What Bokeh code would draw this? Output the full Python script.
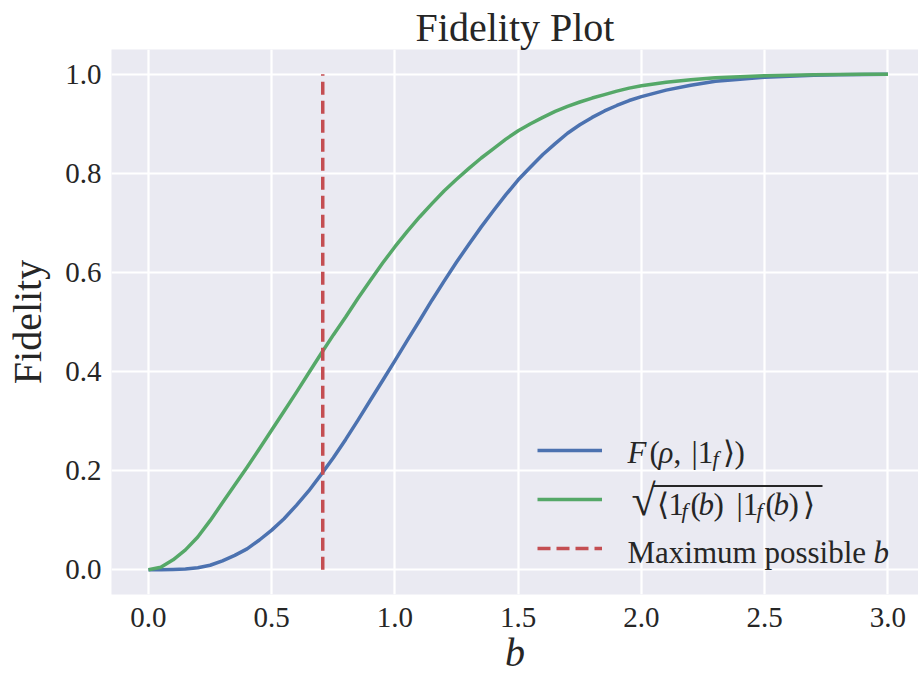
from bokeh.plotting import figure
from bokeh.models import Legend, LegendItem, Label, BoxAnnotation, Range1d
from bokeh.embed import file_html
from bokeh.resources import INLINE

# ---------------- data ----------------
b = [0.00, 0.05, 0.10, 0.15, 0.20, 0.25, 0.30, 0.35, 0.40, 0.45,
     0.50, 0.55, 0.60, 0.65, 0.70, 0.75, 0.80, 0.85, 0.90, 0.95,
     1.00, 1.05, 1.10, 1.15, 1.20, 1.25, 1.30, 1.35, 1.40, 1.45,
     1.50, 1.55, 1.60, 1.65, 1.70, 1.75, 1.80, 1.85, 1.90, 1.95,
     2.00, 2.10, 2.20, 2.30, 2.40, 2.50, 2.60, 2.70, 2.80, 2.90, 3.00]
fid_rho = [0.0, 0.0, 0.0005, 0.0015, 0.004, 0.009, 0.018, 0.029, 0.042, 0.060,
           0.080, 0.103, 0.130, 0.159, 0.192, 0.226, 0.263, 0.302, 0.342, 0.382,
           0.422, 0.463, 0.503, 0.544, 0.583, 0.621, 0.657, 0.692, 0.725, 0.757,
           0.787, 0.813, 0.838, 0.860, 0.881, 0.898, 0.913, 0.926, 0.937, 0.947,
           0.955, 0.968, 0.978, 0.986, 0.990, 0.994, 0.996, 0.998, 0.999, 0.9995, 1.0]
fid_sqrt = [0.0, 0.005, 0.020, 0.040, 0.066, 0.099, 0.135, 0.171, 0.207, 0.244,
            0.282, 0.320, 0.358, 0.397, 0.436, 0.474, 0.510, 0.548, 0.584, 0.619,
            0.652, 0.683, 0.712, 0.739, 0.765, 0.788, 0.810, 0.831, 0.850, 0.869,
            0.886, 0.900, 0.913, 0.925, 0.935, 0.944, 0.952, 0.959, 0.966, 0.972,
            0.977, 0.984, 0.989, 0.993, 0.995, 0.997, 0.998, 0.999, 0.9995, 1.0, 1.0]
b_max = 0.707
b_max_extent = [0.0, 1.0]

x_ticks = [0.0, 0.5, 1.0, 1.5, 2.0, 2.5, 3.0]
x_tick_labels = ["0.0", "0.5", "1.0", "1.5", "2.0", "2.5", "3.0"]
y_ticks = [0.0, 0.2, 0.4, 0.6, 0.8, 1.0]
y_tick_labels = ["0.0", "0.2", "0.4", "0.6", "0.8", "1.0"]

title_text = "Fidelity Plot"
x_label = "b"
y_label = "Fidelity"

# ---------------- styles ----------------
BG = "#EAEAF2"
TXT = "#262626"
BLUE = "#4C72B0"
GREEN = "#55A868"
RED = "#C44E52"
FONT = "Liberation Serif"

W, H = 918, 677
FX0, FX1, FY0, FY1 = 111, 918, 49, 594          # frame in page pixels
XR = (-0.15, -0.15 + (FX1 - FX0) / 246.5)
YR = (-0.05, 1.05)
TEXT_SHIFT = -10                                 # empirical baseline correction

def dx(px):
    return XR[0] + (px - FX0) / (FX1 - FX0) * (XR[1] - XR[0])

def dy(py):
    return YR[1] - (py - FY0) / (FY1 - FY0) * (YR[1] - YR[0])

p = figure(width=W, height=H, output_backend="svg", toolbar_location=None,
           x_range=Range1d(*XR), y_range=Range1d(*YR),
           min_border_left=FX0, min_border_right=W - FX1,
           min_border_top=FY0, min_border_bottom=H - FY1)

p.background_fill_color = BG
p.border_fill_color = "white"
p.outline_line_color = None

p.title.text = title_text
p.title.text_font = FONT
p.title.text_font_size = "40px"
p.title.text_font_style = "normal"
p.title.text_color = TXT
p.title.align = "center"
p.title.standoff = 0

for ax in (p.xaxis[0], p.yaxis[0]):
    ax.axis_line_color = None
    ax.major_tick_line_color = None
    ax.minor_tick_line_color = None
    ax.major_tick_out = 0
    ax.major_tick_in = 0
    ax.major_label_text_font = FONT
    ax.major_label_text_font_size = "29px"
    ax.major_label_text_color = TXT
    ax.axis_label_text_font = FONT
    ax.axis_label_text_font_size = "40px"
    ax.axis_label_text_color = TXT

p.xaxis.ticker = x_ticks
p.xaxis.major_label_overrides = dict(zip(x_ticks, x_tick_labels))
p.yaxis.ticker = y_ticks
p.yaxis.major_label_overrides = dict(zip(y_ticks, y_tick_labels))
p.xaxis.axis_label = x_label
p.xaxis.axis_label_text_font_style = "italic"
p.yaxis.axis_label = y_label
p.yaxis.axis_label_text_font_style = "normal"
p.xaxis.major_label_standoff = 13
p.xaxis.axis_label_standoff = 0
p.yaxis.major_label_standoff = 10
p.yaxis.axis_label_standoff = 12

p.xgrid.grid_line_color = "white"
p.ygrid.grid_line_color = "white"
p.xgrid.grid_line_width = 2.2
p.ygrid.grid_line_width = 2.2

r1 = p.line(b, fid_rho, line_color=BLUE, line_width=3.5, line_join="round")
r2 = p.line(b, fid_sqrt, line_color=GREEN, line_width=3.5, line_join="round")
r3 = p.line([b_max, b_max], b_max_extent, line_color=RED, line_width=3.5, line_dash="13 6")

legend = Legend(items=[LegendItem(label=" ", renderers=[r1]),
                       LegendItem(label=" ", renderers=[r2]),
                       LegendItem(label=" ", renderers=[r3])],
                location=(426, 26), padding=0, margin=0, spacing=9,
                glyph_width=65, glyph_height=40, label_height=40,
                label_width=10, label_standoff=0,
                label_text_font_size="10px",
                background_fill_alpha=0, border_line_alpha=0)
p.add_layout(legend, "center")

def put(text, px, py, size=31, italic=False, align="left"):
    p.add_layout(Label(x=dx(px), y=dy(py + TEXT_SHIFT), text=text, text_font=FONT,
                       text_font_size=f"{size}px",
                       text_font_style="italic" if italic else "normal",
                       text_color=TXT, text_align=align,
                       text_baseline="alphabetic"))

# legend texts, composed in pieces (math-style)
# row 1: F(ρ, |1_f⟩)
put("F", 627, 462, italic=True)
put("(", 649, 462)
put("ρ", 658, 462, italic=True)
put(",", 673, 462)
put("|1", 691, 462)
put("f", 712, 468, size=22, italic=True)
put("⟩)", 722, 462)

# row 2: sqrt(⟨1_f(b)|1_f(b)⟩)
put("√", 631, 510, size=44)
p.add_layout(BoxAnnotation(left=dx(652), right=dx(822), top=dy(484.5), bottom=dy(486.5),
                           fill_color=TXT, fill_alpha=1, line_color=None))
put("⟨1", 656, 514)
put("f", 681, 520, size=22, italic=True)
put("(", 690, 514)
put("b", 698, 514, italic=True)
put(")", 713, 514)
put("|1", 736, 514)
put("f", 756, 520, size=22, italic=True)
put("(", 765, 514)
put("b", 773, 514, italic=True)
put(")", 788, 514)
put("⟩", 802, 514)

# row 3: Maximum possible b
put("Maximum possible", 627, 561.5)
put("b", 873, 561.5, italic=True)

open("out.html", "w").write(file_html(p, INLINE))
